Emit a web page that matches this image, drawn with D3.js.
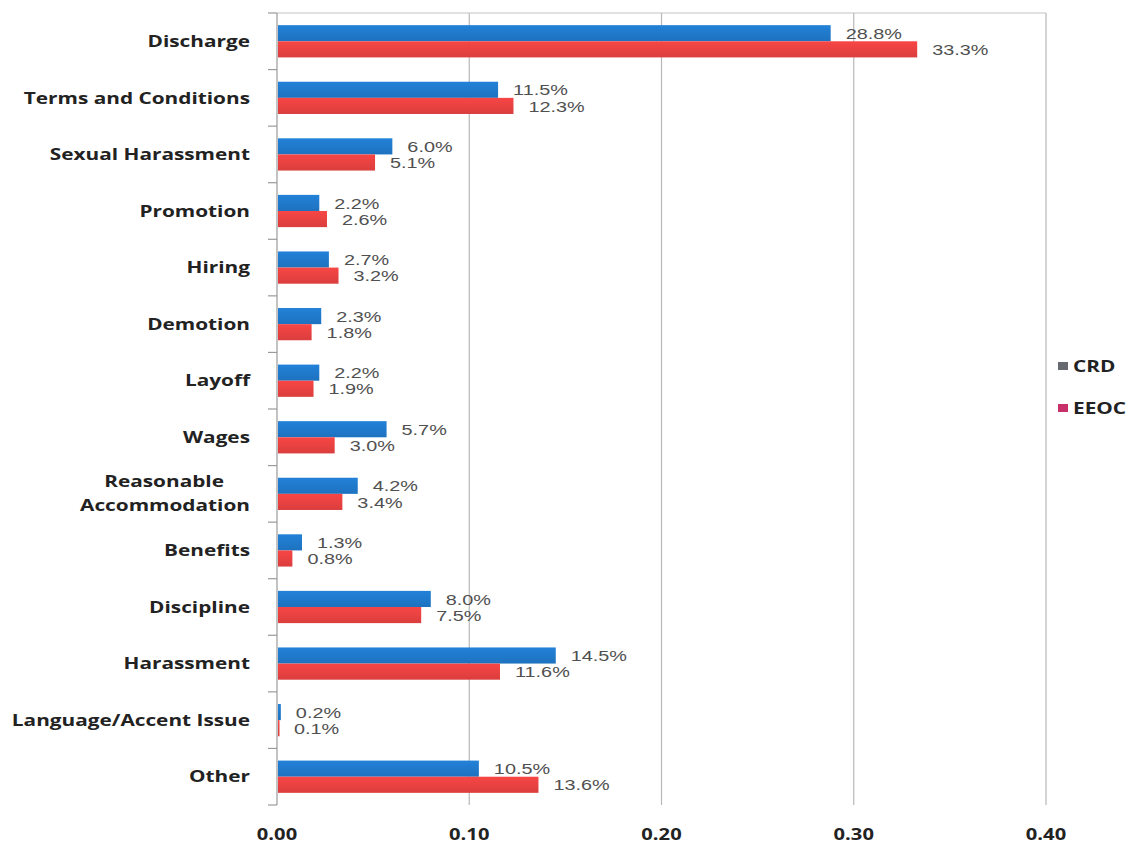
<!DOCTYPE html>
<html>
<head>
<meta charset="utf-8">
<script src="https://cdn.jsdelivr.net/npm/d3@7"></script>
<style>
  html, body { margin: 0; padding: 0; background: #fff; }
  svg { display: block; }
</style>
</head>
<body>
<svg id="chart" width="1133" height="848"></svg>
<script>
const categories = ["Discharge", "Terms and Conditions", "Sexual Harassment", "Promotion", "Hiring",
  "Demotion", "Layoff", "Wages", "Reasonable Accommodation", "Benefits", "Discipline",
  "Harassment", "Language/Accent Issue", "Other"];
const seriesNames = ["CRD", "EEOC"];
const crdValues  = [0.288, 0.115, 0.060, 0.022, 0.027, 0.023, 0.022, 0.057, 0.042, 0.013, 0.080, 0.145, 0.002, 0.105];
const eeocValues = [0.333, 0.123, 0.051, 0.026, 0.032, 0.018, 0.019, 0.030, 0.034, 0.008, 0.075, 0.116, 0.001, 0.136];
const xTicks = [0, 0.1, 0.2, 0.3, 0.4];
const colors = { CRD: "#1f76c6", EEOC: "#e2403f" };
const legendColors = { CRD: "#666a70", EEOC: "#c8306a" };

(function () {
const svg = d3.select("#chart");
const pL = 277, pR = 1046, pT = 13, pB = 805;
const SX = 1.3; // horizontal stretch of the reference's text

const x = d3.scaleLinear().domain([0, 0.4]).range([pL, pR]);
const y = d3.scaleBand().domain(categories).range([pT, pB]).paddingInner(0.43).paddingOuter(0.215);
const ySub = d3.scaleBand().domain(seriesNames).range([0, y.bandwidth()]);

const defs = svg.append("defs");
Object.entries(colors).forEach(([k, c]) => {
  const g = defs.append("linearGradient").attr("id", "g" + k).attr("x1", 0).attr("y1", 0).attr("x2", 0).attr("y2", 1);
  g.append("stop").attr("offset", "0%").attr("stop-color", d3.color(c).brighter(0.25));
  g.append("stop").attr("offset", "100%").attr("stop-color", d3.color(c).darker(0.1));
});

// gridlines
svg.append("g").selectAll("line").data(xTicks.slice(1)).join("line")
  .attr("x1", d => x(d)).attr("x2", d => x(d))
  .attr("y1", pT).attr("y2", pB)
  .attr("stroke", "#b8b8b8").attr("stroke-width", 1.2);
// top border
svg.append("line").attr("x1", pL).attr("x2", pR).attr("y1", pT).attr("y2", pT)
  .attr("stroke", "#c4c4c4").attr("stroke-width", 1.2);

// left axis with ticks at band boundaries
const yAxisG = svg.append("g");
yAxisG.append("line").attr("x1", pL).attr("x2", pL).attr("y1", pT).attr("y2", pB)
  .attr("stroke", "#9a9a9a").attr("stroke-width", 1.2);
const edges = d3.range(categories.length + 1).map(i => pT + i * (pB - pT) / categories.length);
yAxisG.selectAll("line.tk").data(edges).join("line").attr("class", "tk")
  .attr("x1", pL - 9).attr("x2", pL).attr("y1", d => d).attr("y2", d => d)
  .attr("stroke", "#9a9a9a").attr("stroke-width", 1.2);

// bars
const data = categories.map((c, i) => ({ cat: c, vals: [{ s: "CRD", v: crdValues[i] }, { s: "EEOC", v: eeocValues[i] }] }));
const groups = svg.append("g").selectAll("g").data(data).join("g")
  .attr("transform", d => `translate(0,${y(d.cat)})`);
groups.selectAll("rect").data(d => d.vals).join("rect")
  .attr("x", x(0) + 1)
  .attr("y", d => ySub(d.s))
  .attr("width", d => Math.max(1.5, x(d.v) - x(0) - 1))
  .attr("height", ySub.bandwidth())
  .attr("fill", d => `url(#g${d.s})`);
groups.selectAll("text").data(d => d.vals).join("text")
  .attr("transform", d => `translate(${x(d.v) + 15},${ySub(d.s) + ySub.bandwidth() / 2}) scale(1.28,1)`)
  .attr("dy", "0.36em")
  .attr("font-family", "Liberation Sans, Arial, sans-serif")
  .attr("font-size", 15.5)
  .attr("fill", "#505050")
  .text(d => (d.v * 100).toFixed(1) + "%");

// category labels
const catG = svg.append("g");
categories.forEach(c => {
  const cy = y(c) + y.bandwidth() / 2;
  const t = catG.append("text")
    .attr("transform", `translate(250,${cy}) scale(${SX},1)`)
    .attr("text-anchor", "end")
    .attr("font-family", "Open Sans, sans-serif").attr("font-weight", "bold")
    .attr("font-size", 16).attr("fill", "#222");
  if (c === "Reasonable Accommodation") {
    t.append("tspan").attr("x", -20).attr("dy", "-0.45em").text("Reasonable");
    t.append("tspan").attr("x", 0).attr("dy", "1.55em").text("Accommodation");
  } else {
    t.attr("dy", "0.36em").text(c);
  }
});

// x tick labels
svg.append("g").selectAll("text").data(xTicks).join("text")
  .attr("transform", d => `translate(${x(d)},840) scale(${SX},1)`)
  .attr("text-anchor", "middle")
  .attr("font-family", "Open Sans, sans-serif").attr("font-weight", "bold")
  .attr("font-size", 15.5).attr("fill", "#222")
  .text(d => d3.format(".2f")(d));

// legend
const leg = svg.append("g");
seriesNames.forEach((s, i) => {
  const ly = 366 + i * 42;
  leg.append("rect").attr("x", 1058).attr("y", ly - 4).attr("width", 10).attr("height", 8).attr("fill", legendColors[s]);
  leg.append("text").attr("transform", `translate(1073,${ly}) scale(${SX},1)`).attr("dy", "0.36em")
    .attr("font-family", "Open Sans, sans-serif").attr("font-weight", "bold")
    .attr("font-size", 16).attr("fill", "#222").text(s);
});
})();
</script>
</body>
</html>
